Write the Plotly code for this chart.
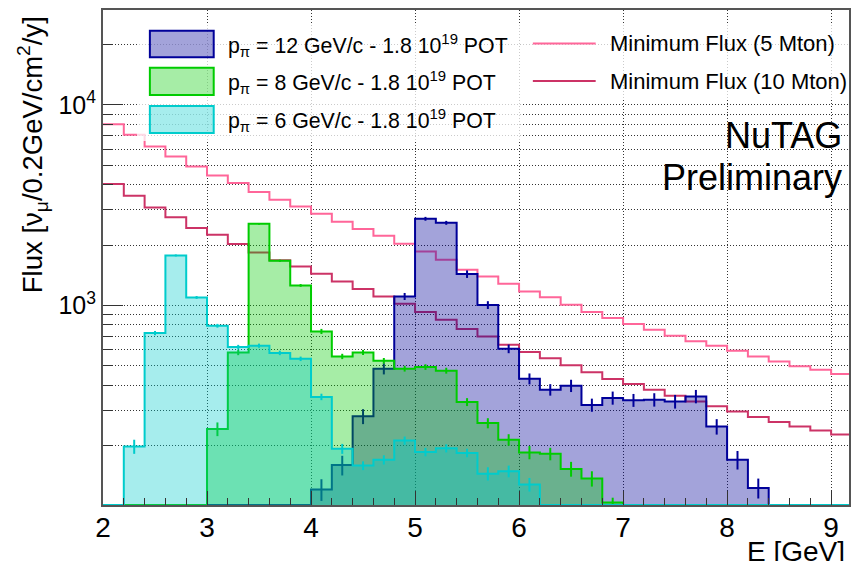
import plotly.graph_objects as go

# ---- binning (0.2 GeV bins) ----
bin_edges = [2.0, 2.2, 2.4, 2.6, 2.8, 3.0, 3.2, 3.4, 3.6, 3.8, 4.0, 4.2, 4.4, 4.6, 4.8,
             5.0, 5.2, 5.4, 5.6, 5.8, 6.0, 6.2, 6.4, 6.6, 6.8, 7.0, 7.2, 7.4, 7.6, 7.8,
             8.0, 8.2, 8.4, 8.6, 8.8, 9.0, 9.2]

# ---- tagged nu_mu flux per bin ----
flux_p12 = [0, 0, 0, 0, 0, 0, 0, 0, 0, 0,
            121, 160, 280, 484, 1109, 2704, 2582, 1433, 1005, 608,
            431, 380, 398, 319, 346, 337, 339, 332, 352, 249,
            170, 123, 0, 0, 0, 0]
err_p12 = [0, 0, 0, 0, 0, 0, 0, 0, 0, 0,
           15, 18, 24, 31, 45, 60, 58, 62, 45, 30,
           27, 25, 28, 24, 26, 25, 26, 26, 27, 22,
           18, 14, 0, 0, 0, 0]

flux_p8 = [0, 0, 0, 0, 0, 242, 583, 2552, 1670, 1258,
           742, 557, 583, 530, 484, 493, 473, 330, 259, 214,
           185, 182, 153, 137, 104, 0, 0, 0, 0, 0,
           0, 0, 0, 0, 0, 0]
err_p8 = [0, 0, 0, 0, 0, 19, 18, 25, 22, 20,
          22, 17, 17, 17, 16, 16, 16, 15, 15, 14,
          14, 13, 13, 12, 6, 0, 0, 0, 0, 0,
          0, 0, 0, 0, 0, 0]

flux_p6 = [0, 198, 728, 1775, 1096, 792, 620, 630, 580, 542,
           350, 193, 159, 170, 212, 186, 194, 184, 145, 149,
           128, 0, 0, 0, 0, 0, 0, 0, 0, 0,
           0, 0, 0, 0, 0, 0]
err_p6 = [0, 16, 18, 20, 18, 17, 16, 15, 15, 14,
          13, 11, 8, 9, 10, 9, 9, 9, 11, 10,
          10, 0, 0, 0, 0, 0, 0, 0, 0, 0,
          0, 0, 0, 0, 0, 0]

# ---- minimum flux curves ----
minflux_5mton = [8015, 7088, 6194, 5522, 4927, 4443, 4073, 3673, 3363, 3114,
                 2864, 2612, 2403, 2223, 2029, 1858, 1689, 1507, 1395, 1282,
                 1175, 1100, 1008, 927, 865, 807, 756, 706, 662, 630,
                 594, 557, 526, 497, 478, 455]
minflux_10mton = [4036, 3521, 3078, 2756, 2431, 2249, 2022, 1837, 1680, 1563,
                  1439, 1317, 1207, 1109, 1020, 927, 849, 763, 701, 637,
                  586, 545, 503, 464, 430, 406, 380, 355, 332, 314,
                  296, 278, 262, 249, 238, 227]

legend_hist = ["p<sub>π</sub> = 12 GeV/c - 1.8 10<sup>19</sup> POT",
               "p<sub>π</sub> = 8 GeV/c - 1.8 10<sup>19</sup> POT",
               "p<sub>π</sub> = 6 GeV/c - 1.8 10<sup>19</sup> POT"]
legend_lines = ["Minimum Flux (5 Mton)", "Minimum Flux (10 Mton)"]

x_ticks = [2, 3, 4, 5, 6, 7, 8, 9]
y_major = [1000, 10000]
y_major_text = ["10<sup>3</sup>", "10<sup>4</sup>"]
y_minor = [200, 300, 400, 500, 600, 700, 800, 900,
           2000, 3000, 4000, 5000, 6000, 7000, 8000, 9000, 20000]

# ---- styling ----
FONT = "Liberation Sans, Arial, sans-serif"
W, H = 851, 561
L, R, T, B = 103, 0, 10, 56
X_RANGE = [2.0, 9.172]
Y_LOG_RANGE = [2.005, 4.473]
FLOOR = 10 ** Y_LOG_RANGE[0]

BLUE, BLUE_FILL = "#000099", "rgba(0,0,153,0.36)"
GREEN, GREEN_FILL = "#00cc00", "rgba(0,204,0,0.35)"
CYAN, CYAN_FILL = "#00cccc", "rgba(0,204,204,0.35)"
PINK, RED = "#ff6699", "#cc3366"
GRID, GRID_DASH = "#333333", "1px,2px"

centers = [(a + b) / 2 for a, b in zip(bin_edges[:-1], bin_edges[1:])]


def step_y(vals):
    ys = [v if v > 0 else FLOOR for v in vals]
    return ys + [ys[-1]]


def hist_trace(vals, color, fill):
    return go.Scatter(x=bin_edges, y=step_y(vals), mode="lines",
                      line=dict(color=color, width=2, shape="hv"),
                      fill="tozeroy", fillcolor=fill,
                      showlegend=False, hoverinfo="skip")


def line_trace(vals, color):
    return go.Scatter(x=bin_edges, y=step_y(vals), mode="lines",
                      line=dict(color=color, width=2, shape="hv"),
                      showlegend=False, hoverinfo="skip")


def err_trace(vals, errs, color):
    xs = [c for c, v in zip(centers, vals) if v > 0]
    ys = [v for v in vals if v > 0]
    es = [e for e, v in zip(errs, vals) if v > 0]
    return go.Scatter(x=xs, y=ys, mode="markers",
                      marker=dict(size=0, color=color, opacity=0),
                      error_y=dict(type="data", array=es, color=color,
                                   thickness=2, width=0),
                      showlegend=False, hoverinfo="skip")


fig = go.Figure()
fig.add_trace(line_trace(minflux_5mton, PINK))
fig.add_trace(line_trace(minflux_10mton, RED))
fig.add_trace(hist_trace(flux_p12, BLUE, BLUE_FILL))
fig.add_trace(err_trace(flux_p12, err_p12, BLUE))
fig.add_trace(hist_trace(flux_p8, GREEN, GREEN_FILL))
fig.add_trace(err_trace(flux_p8, err_p8, GREEN))
fig.add_trace(hist_trace(flux_p6, CYAN, CYAN_FILL))
fig.add_trace(err_trace(flux_p6, err_p6, CYAN))

PW, PH = W - L - R, H - T - B


def px(xp):
    return (xp - L) / PW


def py(yp):
    return (H - B - yp) / PH


shapes = []
annotations = []

# legend panels
shapes.append(dict(type="rect", xref="paper", yref="paper", layer="above",
                   x0=px(137), x1=px(522), y0=py(141), y1=py(25),
                   fillcolor="rgba(255,255,255,0.75)", line=dict(width=0)))
shapes.append(dict(type="rect", xref="paper", yref="paper", layer="above",
                   x0=px(522), x1=px(851), y0=py(100), y1=py(25),
                   fillcolor="rgba(255,255,255,0.75)", line=dict(width=0)))

box_rows = [(30.7, 57.3), (67.7, 95.0), (106.0, 133.0)]
box_styles = [(BLUE, BLUE_FILL), (GREEN, GREEN_FILL), (CYAN, CYAN_FILL)]
for (top, bot), (lc, fc), label in zip(box_rows, box_styles, legend_hist):
    shapes.append(dict(type="rect", xref="paper", yref="paper", layer="above",
                       x0=px(150), x1=px(214), y0=py(bot), y1=py(top),
                       fillcolor=fc, line=dict(color=lc, width=2)))
    annotations.append(dict(xref="paper", yref="paper", x=px(226), y=py((top + bot) / 2 + 1),
                            xanchor="left", yanchor="middle", showarrow=False,
                            text=label, font=dict(family=FONT, size=21.3, color="black")))

for yc, lc, label in zip([43.5, 81.0], [PINK, RED], legend_lines):
    shapes.append(dict(type="line", xref="paper", yref="paper", layer="above",
                       x0=px(534), x1=px(597), y0=py(yc), y1=py(yc),
                       line=dict(color=lc, width=2)))
    annotations.append(dict(xref="paper", yref="paper", x=px(609), y=py(yc),
                            xanchor="left", yanchor="middle", showarrow=False,
                            text=label, font=dict(family=FONT, size=22, color="black")))

# labels
annotations.append(dict(xref="paper", yref="paper", x=px(846), y=py(135),
                        xanchor="right", yanchor="middle", showarrow=False,
                        text="NuTAG", font=dict(family=FONT, size=36, color="black")))
annotations.append(dict(xref="paper", yref="paper", x=px(846), y=py(178),
                        xanchor="right", yanchor="middle", showarrow=False,
                        text="Preliminary", font=dict(family=FONT, size=36, color="black")))
annotations.append(dict(xref="paper", yref="paper", x=px(849), y=py(551),
                        xanchor="right", yanchor="middle", showarrow=False,
                        text="E [GeV]", font=dict(family=FONT, size=28, color="black")))
annotations.append(dict(xref="paper", yref="paper", x=px(32), y=py(155),
                        xanchor="center", yanchor="middle", showarrow=False, textangle=-90,
                        text="Flux [ν<sub>μ</sub>/0.2GeV/cm<sup>2</sup>/y]",
                        font=dict(family=FONT, size=27.5, color="black")))

fig.update_layout(
    width=W, height=H,
    margin=dict(l=L, r=R, t=T, b=B, pad=0),
    paper_bgcolor="white", plot_bgcolor="white",
    showlegend=False,
    shapes=shapes, annotations=annotations,
    font=dict(family=FONT, color="black"),
    xaxis=dict(range=X_RANGE, tickvals=x_ticks, ticktext=[str(t) for t in x_ticks],
               ticks="inside", ticklen=14, tickwidth=1, tickcolor="#333",
               tickfont=dict(family=FONT, size=28, color="black"),
               ticklabelstandoff=-4,
               showgrid=True, gridcolor=GRID, griddash=GRID_DASH, gridwidth=1,
               showline=True, linecolor="#555", linewidth=2, mirror=True,
               zeroline=False,
               minor=dict(dtick=0.2, tick0=2.0, ticks="inside", ticklen=7,
                          tickcolor="#333", showgrid=False)),
    yaxis=dict(type="log", range=Y_LOG_RANGE, tickvals=y_major, ticktext=y_major_text,
               ticks="inside", ticklen=20, tickwidth=1, tickcolor="#333",
               tickfont=dict(family=FONT, size=25, color="black"),
               showgrid=True, gridcolor=GRID, griddash=GRID_DASH, gridwidth=1,
               showline=True, linecolor="#555", linewidth=2, mirror=True,
               zeroline=False,
               minor=dict(tickvals=y_minor, ticks="inside", ticklen=10,
                          tickcolor="#333", showgrid=True, gridcolor=GRID,
                          griddash=GRID_DASH, gridwidth=1)),
)

fig.write_html("out.html")
